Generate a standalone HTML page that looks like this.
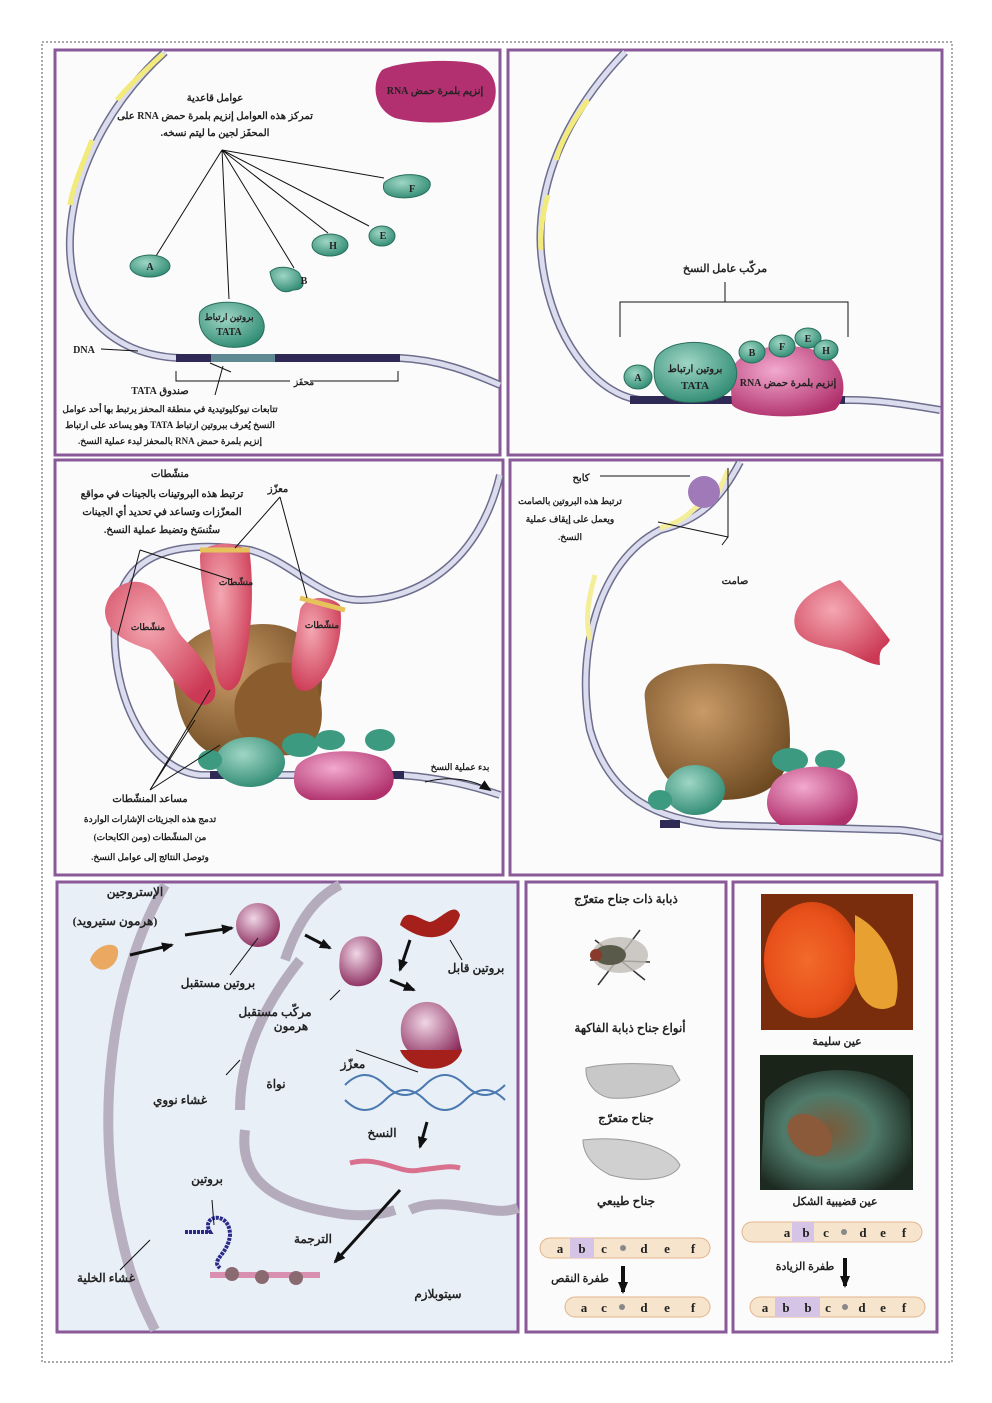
<!DOCTYPE html>
<html><head><meta charset="utf-8"><style>
body{margin:0;background:#fff}
svg{display:block}
text{font-family:"Liberation Serif","Noto Serif CJK SC",serif;font-weight:bold;fill:#222;direction:rtl;unicode-bidi:embed}
text.l{direction:ltr}
</style></head><body>
<svg width="992" height="1403" viewBox="0 0 992 1403" xmlns="http://www.w3.org/2000/svg">
<defs>
<radialGradient id="gr" cx="40%" cy="35%" r="70%"><stop offset="0" stop-color="#9fd6c4"/><stop offset="1" stop-color="#2e8a72"/></radialGradient>
<radialGradient id="mg" cx="40%" cy="35%" r="70%"><stop offset="0" stop-color="#f2a9cf"/><stop offset="1" stop-color="#b0306c"/></radialGradient>
<radialGradient id="rd" cx="40%" cy="35%" r="70%"><stop offset="0" stop-color="#f4a7b2"/><stop offset="1" stop-color="#cc3954"/></radialGradient>
<radialGradient id="br" cx="40%" cy="35%" r="70%"><stop offset="0" stop-color="#c99a66"/><stop offset="1" stop-color="#6e4a22"/></radialGradient>
<radialGradient id="pu" cx="40%" cy="35%" r="70%"><stop offset="0" stop-color="#f0d6e6"/><stop offset="1" stop-color="#8a2a5c"/></radialGradient>
<radialGradient id="eye1" cx="45%" cy="50%" r="60%"><stop offset="0" stop-color="#f26a2a"/><stop offset=".7" stop-color="#e8501a"/><stop offset="1" stop-color="#c84010"/></radialGradient>
<radialGradient id="eye2" cx="45%" cy="50%" r="60%"><stop offset="0" stop-color="#7a5a3a"/><stop offset=".5" stop-color="#4f7a6a"/><stop offset="1" stop-color="#1d2a22"/></radialGradient>
<marker id="ar" markerUnits="userSpaceOnUse" markerWidth="12" markerHeight="10" refX="10" refY="5" orient="auto"><path d="M0,0 L12,5 L0,10z" fill="#111"/></marker>
</defs>
<rect x="42" y="42" width="910" height="1320" fill="none" stroke="#555" stroke-dasharray="2,2"/>
<g fill="#fbfbfc" stroke="#8a5a98" stroke-width="3">
<rect x="55" y="50" width="445" height="405"/>
<rect x="508" y="50" width="434" height="405"/>
<rect x="55" y="460" width="448" height="415"/>
<rect x="510" y="460" width="432" height="415"/>
<rect x="57" y="882" width="461" height="450" fill="#e8eff7"/>
<rect x="526" y="882" width="200" height="450"/>
<rect x="733" y="882" width="204" height="450"/>
</g>

<!-- Panel 1 -->
<path d="M165,52 C100,110 60,200 72,270 C82,330 130,356 180,358 L400,358 C440,360 470,372 500,385" fill="none" stroke="#6d6d8c" stroke-width="8"/>
<path d="M165,52 C100,110 60,200 72,270 C82,330 130,356 180,358 L400,358 C440,360 470,372 500,385" fill="none" stroke="#dcdcef" stroke-width="5"/>
<path d="M163,54 C140,75 125,90 117,100" stroke="#f2ea7a" stroke-width="5" fill="none"/>
<path d="M92,140 C80,170 72,190 70,205" stroke="#f2ea7a" stroke-width="5" fill="none"/>
<rect x="176" y="354" width="35" height="8" fill="#2e2a55"/>
<rect x="211" y="354" width="64" height="8" fill="#5f8a94"/>
<rect x="275" y="354" width="125" height="8" fill="#2e2a55"/>
<path d="M382,70 C400,60 460,58 480,65 C500,75 498,100 490,110 C470,125 420,125 395,118 C375,110 370,85 382,70z" fill="#b33070"/>
<text x="435" y="94" font-size="10" text-anchor="middle">إنزيم بلمرة حمض RNA</text>
<text x="215" y="101" font-size="10" text-anchor="middle">عوامل قاعدية</text>
<text x="215" y="119" font-size="10" text-anchor="middle">تمركز هذه العوامل إنزيم بلمرة حمض RNA على</text>
<text x="215" y="136" font-size="10" text-anchor="middle">المحفَز لجين ما ليتم نسخه.</text>
<g stroke="#111" stroke-width="1" fill="none">
<path d="M222,150 L156,256 M222,150 L229,299 M222,150 L294,268 M222,150 L328,233 M222,150 L369,226 M222,150 L384,178"/>
<path d="M210,363 L231,372 M176,371 L176,381 L290,381 M310,381 L398,381 L398,371 M223,366 L215,395 M101,349 L138,351"/>
</g>
<g fill="url(#gr)" stroke="#2a6f5b">
<ellipse cx="150" cy="266" rx="20" ry="11"/>
<path d="M270,272 C280,262 300,270 300,275 C305,282 305,290 293,290 C280,296 272,285 270,272z"/>
<ellipse cx="330" cy="245" rx="18" ry="11"/>
<ellipse cx="382" cy="236" rx="13" ry="10"/>
<path d="M384,183 C395,172 425,172 430,182 C433,195 410,200 395,197 C385,195 382,190 384,183z"/>
<path d="M200,312 C210,298 248,300 258,312 C270,325 265,345 240,347 C215,350 195,335 200,312z"/>
</g>
<text x="150" y="270" font-size="10" text-anchor="middle">A</text>
<text x="304" y="284" font-size="10" text-anchor="middle">B</text>
<text x="333" y="249" font-size="10" text-anchor="middle">H</text>
<text x="383" y="239" font-size="10" text-anchor="middle">E</text>
<text x="412" y="192" font-size="10" text-anchor="middle">F</text>
<text x="229" y="320" font-size="9" text-anchor="middle">بروتين ارتباط</text>
<text x="229" y="335" font-size="10" text-anchor="middle">TATA</text>
<text class="l" x="84" y="353" font-size="10" text-anchor="middle">DNA</text>
<text x="304" y="385" font-size="9" text-anchor="middle">محفَز</text>
<text x="160" y="394" font-size="10" text-anchor="middle">صندوق TATA</text>
<text x="170" y="412" font-size="9" text-anchor="middle">تتابعات نيوكليوتيدية في منطقة المحفز يرتبط بها أحد عوامل</text>
<text x="170" y="428" font-size="9" text-anchor="middle">النسخ يُعرف ببروتين ارتباط TATA وهو يساعد على ارتباط</text>
<text x="170" y="444" font-size="9" text-anchor="middle">إنزيم بلمرة حمض RNA بالمحفز لبدء عملية النسخ.</text>

<!-- Panel 2 -->
<path d="M625,52 C560,120 528,200 545,280 C560,350 600,395 640,400 L850,400 C880,400 910,405 940,410" fill="none" stroke="#6d6d8c" stroke-width="8"/>
<path d="M625,52 C560,120 528,200 545,280 C560,350 600,395 640,400 L850,400 C880,400 910,405 940,410" fill="none" stroke="#dcdcef" stroke-width="5"/>
<path d="M588,100 C570,125 560,145 556,160" stroke="#f2ea7a" stroke-width="5" fill="none"/>
<path d="M548,195 C542,215 540,235 541,250" stroke="#f2ea7a" stroke-width="5" fill="none"/>
<rect x="630" y="396" width="215" height="8" fill="#2e2a55"/>
<text x="725" y="272" font-size="11" text-anchor="middle">مركّب عامل النسخ</text>
<path d="M620,337 L620,302 L848,302 L848,337 M725,302 L725,282" stroke="#111" fill="none"/>
<path d="M730,375 C735,345 790,340 820,352 C845,362 850,395 835,410 C800,420 745,418 732,405z" fill="url(#mg)"/>
<g fill="url(#gr)" stroke="#2a6f5b">
<ellipse cx="638" cy="377" rx="14" ry="12"/>
<ellipse cx="752" cy="352" rx="13" ry="11"/>
<ellipse cx="782" cy="346" rx="13" ry="11"/>
<ellipse cx="808" cy="338" rx="13" ry="10"/>
<ellipse cx="826" cy="350" rx="12" ry="10"/>
<path d="M655,362 C660,340 710,335 730,355 C745,375 735,400 700,402 C665,405 650,390 655,362z"/>
</g>
<text x="638" y="381" font-size="10" text-anchor="middle">A</text>
<text x="752" y="356" font-size="10" text-anchor="middle">B</text>
<text x="782" y="350" font-size="10" text-anchor="middle">F</text>
<text x="808" y="342" font-size="10" text-anchor="middle">E</text>
<text x="826" y="354" font-size="10" text-anchor="middle">H</text>
<text x="695" y="372" font-size="10" text-anchor="middle">بروتين ارتباط</text>
<text x="695" y="389" font-size="11" text-anchor="middle">TATA</text>
<text x="788" y="386" font-size="10" text-anchor="middle">إنزيم بلمرة حمض RNA</text>

<!-- Panel 3 -->
<g fill="none">
<path d="M500,475 C480,560 420,600 360,600 C320,600 290,560 250,550 C180,540 120,550 115,620 C110,700 150,770 200,775 L400,775 C440,778 470,785 500,795" stroke="#6d6d8c" stroke-width="8"/>
<path d="M500,475 C480,560 420,600 360,600 C320,600 290,560 250,550 C180,540 120,550 115,620 C110,700 150,770 200,775 L400,775 C440,778 470,785 500,795" stroke="#dcdcef" stroke-width="5"/>
</g>
<rect x="210" y="771" width="30" height="8" fill="#2e2a55"/>
<rect x="390" y="771" width="14" height="8" fill="#2e2a55"/>
<path d="M175,690 C165,650 200,620 250,625 C300,618 330,650 320,700 C315,740 290,760 240,760 C200,760 180,730 175,690z" fill="url(#br)"/>
<path d="M235,700 C245,660 300,650 315,680 C330,720 320,750 290,755 C260,758 230,740 235,700z" fill="#8b5d2e"/>
<path d="M105,610 C110,580 140,575 155,590 C170,605 170,625 185,640 C215,670 225,700 205,705 C185,705 170,670 150,650 C120,640 105,630 105,610z" fill="url(#rd)"/>
<path d="M200,555 C205,540 245,540 250,555 C255,600 250,650 240,680 C230,700 215,690 215,660 C210,620 200,590 200,555z" fill="url(#rd)"/>
<path d="M300,610 C305,595 330,595 340,605 C345,640 330,680 310,690 C295,695 290,680 292,660 C295,640 298,625 300,610z" fill="url(#rd)"/>
<path d="M200,550 L250,550 M300,598 L345,610" stroke="#e6c25a" stroke-width="5"/>
<ellipse cx="250" cy="762" rx="35" ry="25" fill="url(#gr)"/>
<ellipse cx="210" cy="760" rx="12" ry="10" fill="#3b9a80"/>
<ellipse cx="300" cy="745" rx="18" ry="12" fill="#3b9a80"/>
<ellipse cx="330" cy="740" rx="15" ry="10" fill="#3b9a80"/>
<ellipse cx="380" cy="740" rx="15" ry="11" fill="#3b9a80"/>
<path d="M295,770 C300,750 360,745 385,760 C400,775 395,795 375,800 L310,800 C295,795 292,785 295,770z" fill="url(#mg)"/>
<text x="170" y="477" font-size="10" text-anchor="middle">منشّطات</text>
<text x="162" y="497" font-size="10" text-anchor="middle">ترتبط هذه البروتينات بالجينات في مواقع</text>
<text x="162" y="515" font-size="10" text-anchor="middle">المعزّزات وتساعد في تحديد أي الجينات</text>
<text x="162" y="533" font-size="10" text-anchor="middle">ستُنسَخ وتضبط عملية النسخ.</text>
<text x="278" y="492" font-size="10" text-anchor="middle">معزّز</text>
<g stroke="#111" fill="none">
<path d="M280,497 L235,548 M280,497 L307,598 M140,550 L118,635 M140,550 L232,580 M150,790 L210,690 M150,790 L195,720 M150,790 L220,745"/>
<path d="M425,782 C450,775 475,780 490,790" marker-end="url(#ar)"/>
</g>
<text x="148" y="630" font-size="9" text-anchor="middle">منشّطات</text>
<text x="236" y="585" font-size="9" text-anchor="middle">منشّطات</text>
<text x="322" y="628" font-size="9" text-anchor="middle">منشّطات</text>
<text x="460" y="770" font-size="9" text-anchor="middle">بدء عملية النسخ</text>
<text x="150" y="802" font-size="10" text-anchor="middle">مساعد المنشّطات</text>
<text x="150" y="822" font-size="9" text-anchor="middle">تدمج هذه الجزيئات الإشارات الواردة</text>
<text x="150" y="840" font-size="9" text-anchor="middle">من المنشّطات (ومن الكابحات)</text>
<text x="150" y="860" font-size="9" text-anchor="middle">وتوصل النتائج إلى عوامل النسخ.</text>

<!-- Panel 4 -->
<g fill="none">
<path d="M740,462 C720,500 700,520 660,530 C600,560 575,650 590,730 C610,800 660,820 720,825 L900,830 C920,832 930,835 942,838" stroke="#6d6d8c" stroke-width="8"/>
<path d="M740,462 C720,500 700,520 660,530 C600,560 575,650 590,730 C610,800 660,820 720,825 L900,830 C920,832 930,835 942,838" stroke="#dcdcef" stroke-width="5"/>
<path d="M728,470 C718,495 712,505 700,505 C690,510 688,520 660,528" stroke="#f4ee9a" stroke-width="5"/>
<path d="M590,640 C585,620 588,600 595,575" stroke="#f4ee9a" stroke-width="5"/>
</g>
<rect x="660" y="820" width="20" height="8" fill="#2e2a55"/>
<ellipse cx="704" cy="492" rx="16" ry="16" fill="#a07ab8"/>
<path d="M795,615 C800,595 825,585 840,580 C860,600 875,620 890,640 C885,650 878,645 880,665 C870,665 855,655 840,650 C815,645 790,640 795,615z" fill="url(#rd)"/>
<path d="M645,700 C640,670 690,660 740,665 C780,665 790,700 790,740 C790,780 770,800 720,800 C670,800 650,770 645,700z" fill="url(#br)"/>
<ellipse cx="695" cy="790" rx="30" ry="25" fill="url(#gr)"/>
<ellipse cx="660" cy="800" rx="12" ry="10" fill="#3b9a80"/>
<ellipse cx="790" cy="760" rx="18" ry="12" fill="#3b9a80"/>
<ellipse cx="830" cy="760" rx="15" ry="10" fill="#3b9a80"/>
<path d="M770,790 C775,765 830,760 850,775 C862,790 860,815 845,825 L780,825 C765,815 765,800 770,790z" fill="url(#mg)"/>
<g stroke="#111" fill="none"><path d="M600,476 L690,476 M728,468 L728,537 L658,522 M728,537 L722,545"/></g>
<text x="581" y="481" font-size="10" text-anchor="middle">كابح</text>
<text x="570" y="504" font-size="9" text-anchor="middle">ترتبط هذه البروتين بالصامت</text>
<text x="570" y="522" font-size="9" text-anchor="middle">ويعمل على إيقاف عملية</text>
<text x="570" y="540" font-size="9" text-anchor="middle">النسخ.</text>
<text x="735" y="584" font-size="10" text-anchor="middle">صامت</text>

<!-- Panel 5 -->
<path d="M165,885 C110,980 95,1120 120,1230 C130,1280 145,1310 155,1330" fill="none" stroke="#b8b0c0" stroke-width="10"/>
<path d="M340,885 C310,900 295,930 285,960" fill="none" stroke="#b4acbc" stroke-width="10"/>
<path d="M300,960 C260,1010 240,1060 240,1110" fill="none" stroke="#b4acbc" stroke-width="10"/>
<path d="M245,1130 C240,1170 260,1200 330,1212 C360,1218 380,1215 395,1210" fill="none" stroke="#b4acbc" stroke-width="10"/>
<path d="M410,1210 C430,1200 460,1205 490,1210 C505,1212 512,1210 518,1208" fill="none" stroke="#b4acbc" stroke-width="10"/>
<path d="M90,960 C95,945 115,940 118,950 C120,965 100,980 90,960z" fill="#eaa860"/>
<circle cx="258" cy="925" r="22" fill="url(#pu)"/>
<path d="M340,955 C345,930 380,930 382,955 C385,980 365,990 350,985 C340,980 338,970 340,955z" fill="url(#pu)"/>
<path d="M400,925 C405,905 420,920 430,922 C440,920 455,900 460,915 C455,935 430,948 400,925z" fill="#a5201a"/>
<path d="M402,1040 C395,1010 420,995 440,1005 C460,1020 458,1040 462,1050 C460,1065 410,1068 402,1040z" fill="url(#pu)"/>
<path d="M400,1050 C410,1075 455,1075 462,1050" fill="#a5201a"/>
<path d="M345,1085 Q365,1065 385,1085 T425,1085 T465,1085 T505,1085 M345,1100 Q365,1120 385,1100 T425,1100 T465,1100 T505,1100" fill="none" stroke="#4a7ab0" stroke-width="2"/>
<path d="M350,1163 C380,1155 400,1175 420,1170 C440,1168 450,1165 460,1168" fill="none" stroke="#d8708e" stroke-width="5"/>
<path d="M210,1275 L320,1275" stroke="#d88fb0" stroke-width="6"/>
<circle cx="232" cy="1274" r="7" fill="#8a6a70"/><circle cx="262" cy="1277" r="7" fill="#8a6a70"/><circle cx="296" cy="1278" r="7" fill="#8a6a70"/>
<path d="M185,1232 L210,1232 C200,1215 230,1210 230,1235 C228,1255 210,1260 220,1268" fill="none" stroke="#2a2a8a" stroke-width="4" stroke-dasharray="3,1"/>
<g stroke="#111" stroke-width="3" fill="none">
<path d="M130,955 L172,945" marker-end="url(#ar)"/><path d="M185,935 L232,928" marker-end="url(#ar)"/>
<path d="M305,935 L330,948" marker-end="url(#ar)"/><path d="M410,940 L400,970" marker-end="url(#ar)"/>
<path d="M390,980 L414,990" marker-end="url(#ar)"/><path d="M427,1122 L420,1147" marker-end="url(#ar)"/>
<path d="M400,1190 L335,1262" marker-end="url(#ar)"/>
</g>
<g stroke="#111" fill="none"><path d="M230,975 L258,938 M450,940 L462,960 M356,1050 L418,1072 M226,1075 L240,1060 M120,1270 L150,1240 M212,1200 L214,1225 M330,1000 L340,990"/></g>
<text x="135" y="896" font-size="12" text-anchor="middle">الإستروجين</text>
<text x="115" y="925" font-size="12" text-anchor="middle">(هرمون ستيرويد)</text>
<text x="218" y="987" font-size="12" text-anchor="middle">بروتين مستقبل</text>
<text x="275" y="1016" font-size="12" text-anchor="middle">مركّب مستقبل</text>
<text x="291" y="1030" font-size="12" text-anchor="middle">هرمون</text>
<text x="476" y="972" font-size="12" text-anchor="middle">بروتين قابل</text>
<text x="353" y="1068" font-size="12" text-anchor="middle">معزّز</text>
<text x="276" y="1088" font-size="12" text-anchor="middle">نواة</text>
<text x="180" y="1104" font-size="12" text-anchor="middle">غشاء نووي</text>
<text x="382" y="1137" font-size="12" text-anchor="middle">النسخ</text>
<text x="207" y="1183" font-size="12" text-anchor="middle">بروتين</text>
<text x="313" y="1243" font-size="12" text-anchor="middle">الترجمة</text>
<text x="106" y="1282" font-size="12" text-anchor="middle">غشاء الخلية</text>
<text x="438" y="1298" font-size="12" text-anchor="middle">سيتوبلازم</text>

<!-- Panel 6 -->
<text x="626" y="903" font-size="12" text-anchor="middle">ذبابة ذات جناح متعرّج</text>
<g stroke="#333" stroke-width="1.5"><path d="M595,940 L645,980 M640,930 L598,985 M590,960 L650,962"/></g>
<ellipse cx="620" cy="955" rx="28" ry="18" fill="#c0bcb4" opacity=".8"/>
<ellipse cx="610" cy="955" rx="16" ry="10" fill="#5a5a4a"/>
<circle cx="596" cy="955" r="6" fill="#8a3a2a"/>
<text x="630" y="1032" font-size="12" text-anchor="middle">أنواع جناح ذبابة الفاكهة</text>
<path d="M586,1068 C610,1062 650,1063 672,1066 L680,1080 C670,1090 640,1100 610,1098 C595,1095 585,1082 586,1068z" fill="#c8c8c8" stroke="#999"/>
<text x="626" y="1122" font-size="12" text-anchor="middle">جناح متعرّج</text>
<path d="M583,1140 C620,1135 670,1145 680,1165 C675,1180 640,1183 610,1175 C590,1165 583,1152 583,1140z" fill="#d0d0d0" stroke="#999"/>
<text x="626" y="1205" font-size="12" text-anchor="middle">جناح طيبعي</text>
<g font-size="13">
<rect x="540" y="1238" width="170" height="20" rx="10" fill="#f6e4cc" stroke="#e2b48a"/>
<rect x="570" y="1238" width="24" height="20" fill="#d6c4e6"/>
<circle cx="623" cy="1248" r="3" fill="#888"/>
<text x="560" y="1253" text-anchor="middle">a</text><text x="582" y="1253" text-anchor="middle">b</text><text x="604" y="1253" text-anchor="middle">c</text><text x="644" y="1253" text-anchor="middle">d</text><text x="667" y="1253" text-anchor="middle">e</text><text x="693" y="1253" text-anchor="middle">f</text>
<rect x="565" y="1297" width="145" height="20" rx="10" fill="#f6e4cc" stroke="#e2b48a"/>
<circle cx="622" cy="1307" r="3" fill="#888"/>
<text x="584" y="1312" text-anchor="middle">a</text><text x="604" y="1312" text-anchor="middle">c</text><text x="644" y="1312" text-anchor="middle">d</text><text x="667" y="1312" text-anchor="middle">e</text><text x="693" y="1312" text-anchor="middle">f</text>
<rect x="742" y="1222" width="180" height="20" rx="10" fill="#f6e4cc" stroke="#e2b48a"/>
<rect x="792" y="1222" width="22" height="20" fill="#d6c4e6"/>
<circle cx="844" cy="1232" r="3" fill="#888"/>
<text x="787" y="1237" text-anchor="middle">a</text><text x="806" y="1237" text-anchor="middle">b</text><text x="826" y="1237" text-anchor="middle">c</text><text x="863" y="1237" text-anchor="middle">d</text><text x="883" y="1237" text-anchor="middle">e</text><text x="904" y="1237" text-anchor="middle">f</text>
<rect x="750" y="1297" width="175" height="20" rx="10" fill="#f6e4cc" stroke="#e2b48a"/>
<rect x="775" y="1297" width="45" height="20" fill="#d6c4e6"/>
<circle cx="845" cy="1307" r="3" fill="#888"/>
<text x="765" y="1312" text-anchor="middle">a</text><text x="786" y="1312" text-anchor="middle">b</text><text x="808" y="1312" text-anchor="middle">b</text><text x="828" y="1312" text-anchor="middle">c</text><text x="862" y="1312" text-anchor="middle">d</text><text x="883" y="1312" text-anchor="middle">e</text><text x="904" y="1312" text-anchor="middle">f</text>
</g>
<path d="M623,1266 L623,1292" stroke="#111" stroke-width="4" marker-end="url(#ar)"/>
<text x="580" y="1282" font-size="11" text-anchor="middle">طفرة النقص</text>
<path d="M845,1258 L845,1286" stroke="#111" stroke-width="4" marker-end="url(#ar)"/>
<text x="805" y="1270" font-size="11" text-anchor="middle">طفرة الزيادة</text>

<!-- Panel 7 -->
<rect x="761" y="894" width="152" height="136" fill="#1a0a04"/>
<path d="M761,894 L913,894 L913,1030 L761,1030z" fill="#c84a14" opacity=".55"/>
<ellipse cx="812" cy="960" rx="48" ry="58" fill="url(#eye1)"/>
<path d="M855,915 C885,930 905,970 895,1005 C870,1020 850,990 855,960z" fill="#e8a030"/>
<text x="837" y="1045" font-size="11" text-anchor="middle">عين سليمة</text>
<rect x="760" y="1055" width="153" height="135" fill="#1a2418"/>
<path d="M765,1100 C800,1060 880,1060 910,1100 L913,1190 L760,1190z" fill="url(#eye2)"/>
<ellipse cx="810" cy="1135" rx="25" ry="18" fill="#8a5a3a" transform="rotate(40 810 1135)"/>
<text x="835" y="1205" font-size="11" text-anchor="middle">عين قضيبية الشكل</text>
</svg>
</body></html>
